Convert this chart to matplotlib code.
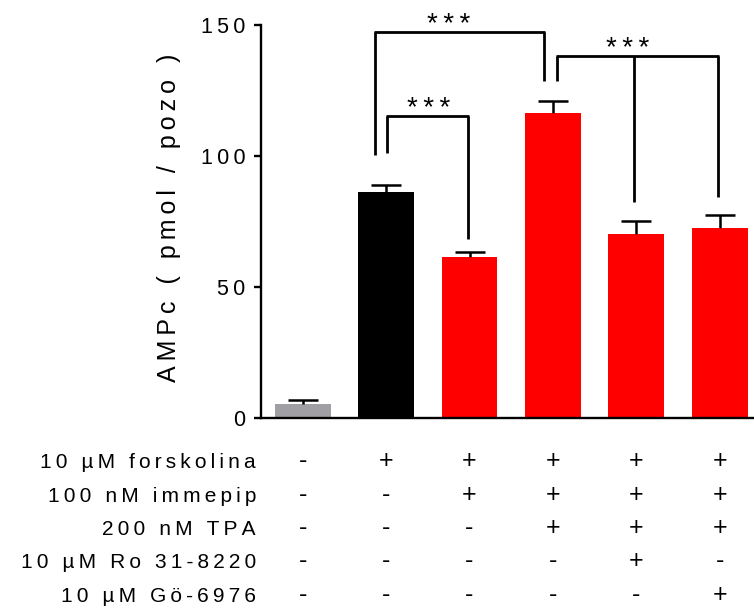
import numpy as np
import matplotlib.pyplot as plt
from matplotlib import transforms

plt.rcParams['font.family'] = ['Liberation Sans', 'DejaVu Sans']

# bar data (AMPc, pmol/pozo)
means = [5.3, 86.1, 61.5, 116.4, 70.2, 72.5]
errs = [1.6, 2.8, 1.7, 4.6, 5.0, 4.9]
bar_colors = ['#a0a0a4', 'black', 'red', 'red', 'red', 'red']
yticks = [0, 50, 100, 150]

# treatment table under the bars
row_labels = ['10 \u00b5M forskolina', '100 nM immepip', '200 nM TPA',
              '10 \u00b5M Ro 31-8220', '10 \u00b5M G\u00f6-6976']
signs = [['-', '+', '+', '+', '+', '+'],
         ['-', '-', '+', '+', '+', '+'],
         ['-', '-', '-', '+', '+', '+'],
         ['-', '-', '-', '-', '+', '-'],
         ['-', '-', '-', '-', '-', '+']]

# significance brackets: leg x, leg bottom y, top y, star position
br_legs_x = [[0.863, 2.898], [1.016, 1.978], [3.046, 3.969, 4.976]]
br_legs_y = [[100.4, 128.6], [101.1, 68.3], [128.6, 82.4, 84.4]]
br_top = [147.3, 115.3, 138.2]
star_x = [1.75, 1.51, 3.90]


def spaced(s):
    # wide letter spacing like the original
    return '\u2009'.join(s)


fig = plt.figure(figsize=(7.54, 6.13), dpi=100)
ax = fig.add_axes([261/754, 195/613, 493/754, 393/613])

x = np.arange(len(means))
tops = np.array(means) + np.array(errs)
ax.bar(x, means, width=0.67, color=bar_colors, zorder=2)
ax.vlines(x, means, tops, color='black', lw=1.8, zorder=3)
ax.plot(x, tops, ls='none', marker='_', markersize=21, mew=1.8,
        color='black', zorder=3)

ax.set_xlim(-0.5, 5.41)
ax.set_ylim(0, 150)
for s in ['top', 'right']:
    ax.spines[s].set_visible(False)
for s in ['left', 'bottom']:
    ax.spines[s].set_linewidth(1.7)
ax.set_xticks([])
ax.set_yticks(yticks)
ax.set_yticklabels([spaced(str(t)) for t in yticks], fontsize=15.5)
ax.tick_params(axis='y', length=5, width=1.7, pad=6)

fig.text(0.2248, 0.645, spaced('AMPc ( pmol / pozo )'), rotation=90,
         ha='center', va='center', fontsize=18)

for lx, ly, top, sx in zip(br_legs_x, br_legs_y, br_top, star_x):
    for xx, yy in zip(lx, ly):
        ax.plot([xx, xx], [yy, top], color='black', lw=2, clip_on=False,
                solid_capstyle='butt')
    ax.plot([min(lx) - 0.012, max(lx) + 0.012], [top, top], color='black',
            lw=2, clip_on=False, solid_capstyle='butt')
    ax.text(sx, top, spaced('***'), ha='center', va='baseline', fontsize=20,
            clip_on=False)

# table rows
trans = transforms.blended_transform_factory(ax.transData, fig.transFigure)
for i, (lab, row) in enumerate(zip(row_labels, signs)):
    base = (613 - (468 + 33.5 * i)) / 613
    fig.text(256/754, base, spaced(lab), ha='right', va='baseline',
             fontsize=15)
    for j, sg in enumerate(row):
        ax.text(x[j], base, sg, transform=trans, ha='center', va='baseline',
                fontsize=18, clip_on=False)

fig.savefig('out.png', dpi=100)
